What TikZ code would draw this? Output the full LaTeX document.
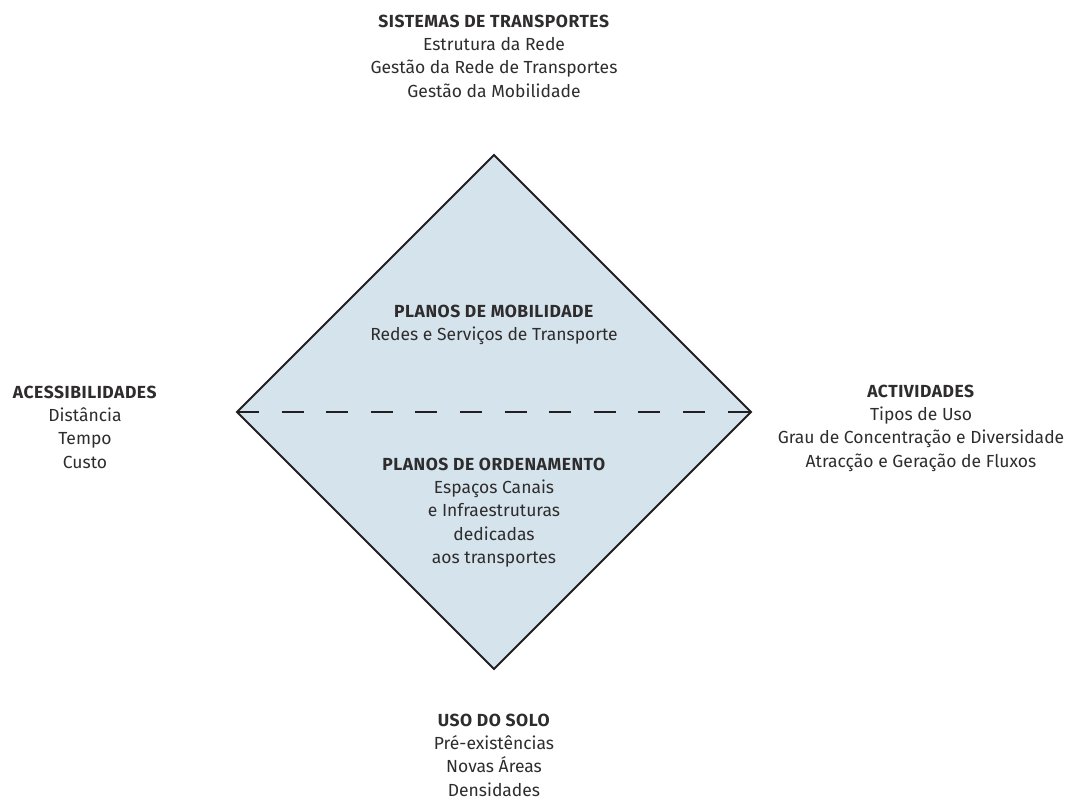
\documentclass[tikz,border=0pt]{standalone}
\usepackage{fontspec}
\setmainfont{Fira Sans}
\begin{document}
\begin{tikzpicture}[x=1pt,y=-1pt,
  label/.style={align=center, inner sep=0pt, anchor=north, text=txt,
    font=\fontsize{17.5}{23.2}\selectfont},
  framing/.style={draw=edge, line width=2pt, line join=miter},
  divider/.style={draw=edge, line width=2pt, dash pattern=on 22pt off 22.6pt}]
\definecolor{txt}{HTML}{2E2C2D}
\definecolor{edge}{HTML}{231F20}
\definecolor{panel}{HTML}{D5E4EC}
\useasboundingbox (0,0) rectangle (1079,800);
% corners of the diamond
\coordinate (top) at (494,155);
\coordinate (left) at (237,412);
\coordinate (right) at (751,412);
\coordinate (bottom) at (494,669);
\fill[panel] (top) -- (right) -- (bottom) -- (left) -- cycle;
\draw[divider] (left) -- (right);
\draw[framing] (top) -- (right) -- (bottom) -- (left) -- cycle;
% labels around and inside
\newcommand{\hd}[1]{{\addfontfeatures{LetterSpace=3}\textbf{#1}}}
\node[label] (sist) at (494,14.8) {\hd{SISTEMAS DE TRANSPORTES}\\Estrutura da Rede\\Gestão da Rede de Transportes\\Gestão da Mobilidade};
\node[label] (aces) at (85,385.8) {\hd{ACESSIBILIDADES}\\Distância\\Tempo\\Custo};
\node[label] (activ) at (921,384.8) {\hd{ACTIVIDADES}\\Tipos de Uso\\Grau de Concentração e Diversidade\\Atracção e Geração de Fluxos};
\node[label] (mob) at (494,304.8) {\hd{PLANOS DE MOBILIDADE}\\Redes e Serviços de Transporte};
\node[label] (orden) at (494,457.8) {\hd{PLANOS DE ORDENAMENTO}\\Espaços Canais\\e Infraestruturas\\dedicadas\\aos transportes};
\node[label] (solo) at (494,713.8) {\hd{USO DO SOLO}\\Pré-existências\\Novas Áreas\\Densidades};
\end{tikzpicture}
\end{document}
